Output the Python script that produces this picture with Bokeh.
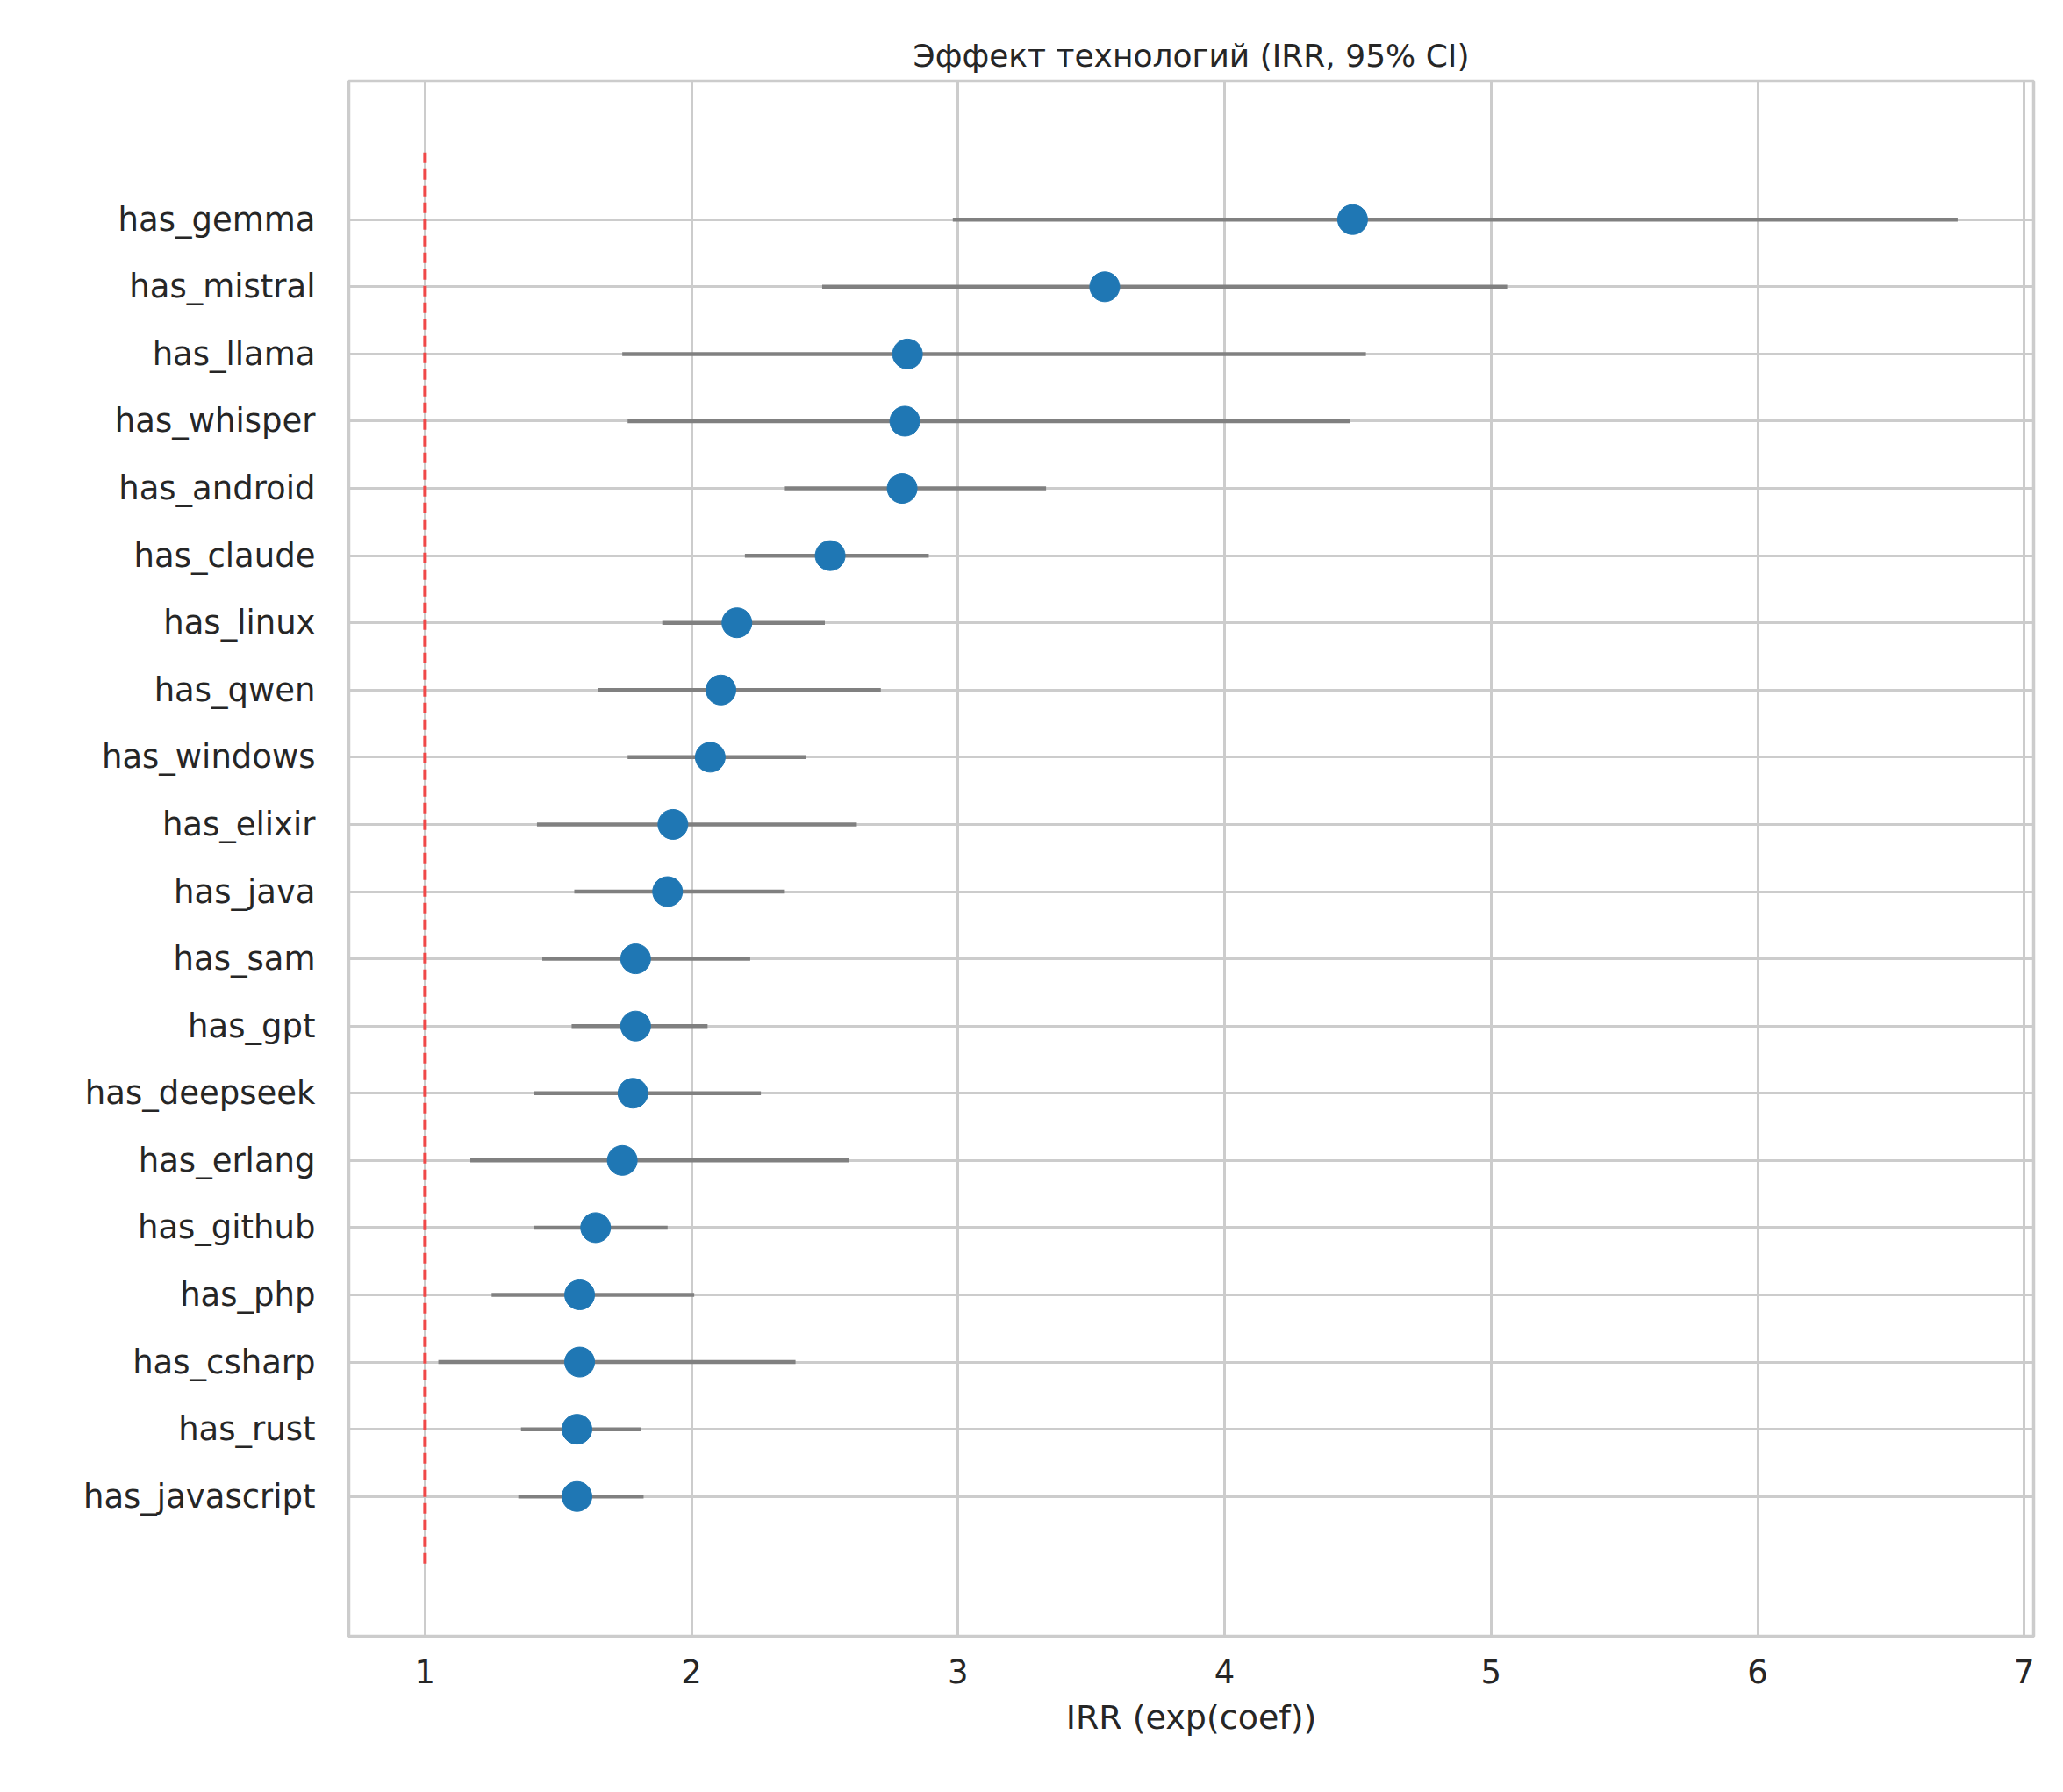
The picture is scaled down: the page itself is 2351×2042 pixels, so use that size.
from bokeh.plotting import figure
from bokeh.models import FixedTicker, Range1d
from bokeh.embed import file_html
from bokeh.resources import INLINE

labels = ["has_gemma","has_mistral","has_llama","has_whisper","has_android","has_claude","has_linux",
          "has_qwen","has_windows","has_elixir","has_java","has_sam","has_gpt","has_deepseek","has_erlang",
          "has_github","has_php","has_csharp","has_rust","has_javascript"]
irr = [4.48,3.55,2.81,2.80,2.79,2.52,2.17,2.11,2.07,1.93,1.91,1.79,1.79,1.78,1.74,1.64,1.58,1.58,1.57,1.57]
lo = [2.98,2.49,1.74,1.76,2.35,2.20,1.89,1.65,1.76,1.42,1.56,1.44,1.55,1.41,1.17,1.41,1.25,1.05,1.36,1.35]
hi = [6.75,5.06,4.53,4.47,3.33,2.89,2.50,2.71,2.43,2.62,2.35,2.22,2.06,2.26,2.59,1.91,2.01,2.39,1.81,1.82]
xticks = [1,2,3,4,5,6,7]

n = len(labels)
ys = [n-1-i for i in range(n)]
font = "DejaVu Sans"
tc = "#262626"

p = figure(width=2335, height=2026, output_backend="svg", toolbar_location=None,
           x_range=Range1d(0.714, 7.035), y_range=Range1d(-2.08, n-1+2.06),
           min_border_left=397, min_border_right=18, min_border_top=92, min_border_bottom=162,
           title="Эффект технологий (IRR, 95% CI)")
p.title.text_font = font
p.title.text_font_size = "36px"
p.title.text_font_style = "normal"
p.title.text_color = tc
p.title.align = "center"
p.title.standoff = 18

p.outline_line_color = "#cccccc"
p.outline_line_width = 3.5

p.xgrid.ticker = FixedTicker(ticks=xticks)
p.ygrid.ticker = FixedTicker(ticks=ys)
for g in (p.xgrid, p.ygrid):
    g.grid_line_color = "#cccccc"
    g.grid_line_width = 3

p.xaxis.ticker = FixedTicker(ticks=xticks)
p.yaxis.ticker = FixedTicker(ticks=ys)
p.yaxis.major_label_overrides = {y: l for y, l in zip(ys, labels)}
p.xaxis.axis_label = "IRR (exp(coef))"
for ax in (p.xaxis, p.yaxis):
    ax.axis_line_color = None
    ax.major_tick_line_color = None
    ax.minor_tick_line_color = None
    ax.major_label_text_font = font
    ax.major_label_text_font_size = "37px"
    ax.major_label_text_color = tc
p.yaxis.major_label_standoff = 32
p.xaxis.major_label_standoff = 20
p.xaxis.axis_label_text_font = font
p.xaxis.axis_label_text_font_size = "38px"
p.xaxis.axis_label_text_font_style = "normal"
p.xaxis.axis_label_text_color = tc
p.xaxis.axis_label_standoff = 14

p.segment(x0=lo, x1=hi, y0=ys, y1=ys, line_color="gray", line_width=4.5)
p.scatter(x=irr, y=ys, size=34, fill_color="#1f77b4", line_color="#1f77b4")
p.segment(x0=[1], x1=[1], y0=[-1], y1=[n], line_color="#f04848", line_width=4, line_dash="12 7")

open("out.html", "w").write(file_html(p, INLINE))
